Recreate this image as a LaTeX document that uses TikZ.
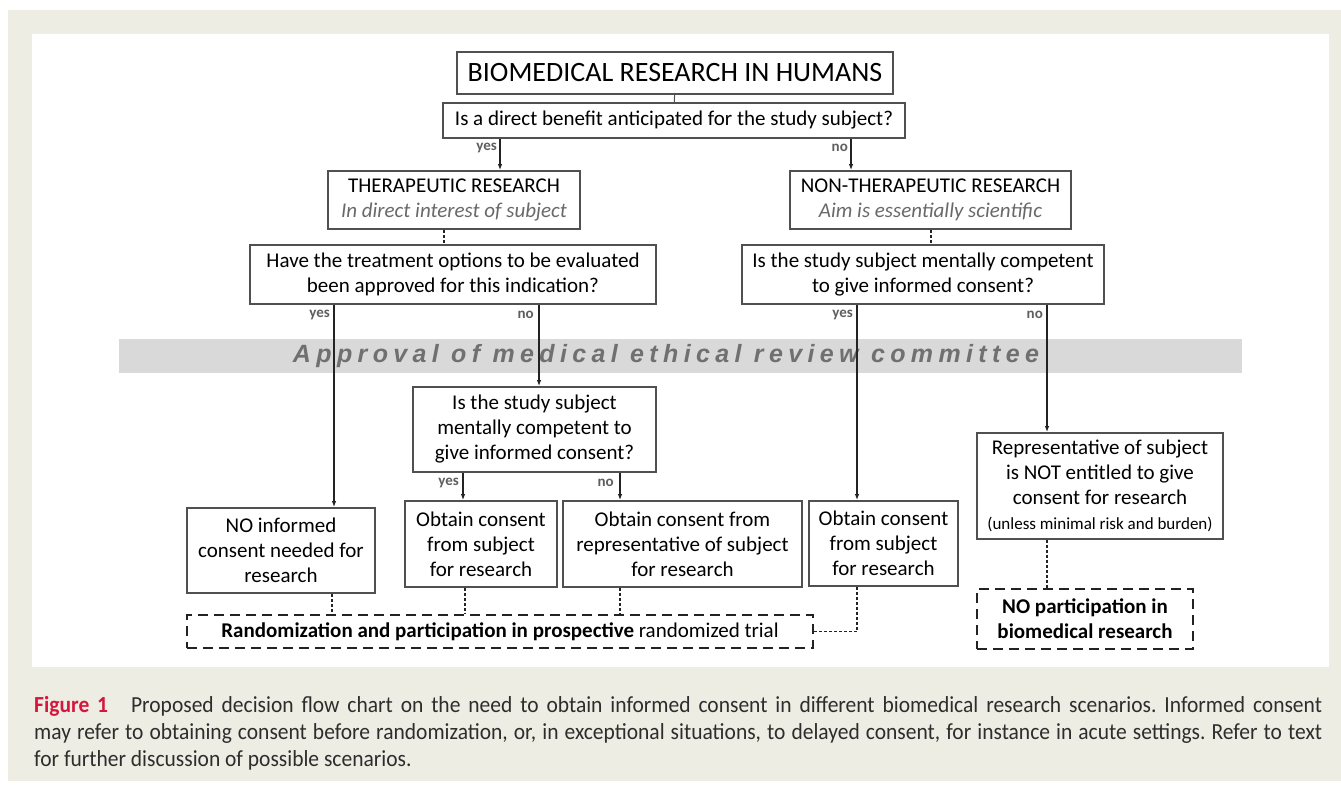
\documentclass[tikz,border=0pt]{standalone}
\usepackage{fontspec}
\setmainfont{Carlito}
\newfontfamily\bandfont[LetterSpace=21.5]{Liberation Sans}
\newfontfamily\capfont[FakeStretch=0.935]{Carlito}
\usetikzlibrary{arrows.meta}
\definecolor{beige}{RGB}{238,237,227}
\definecolor{boxgray}{RGB}{80,80,80}
\definecolor{linegray}{RGB}{35,35,35}
\definecolor{lblgray}{RGB}{95,95,95}
\definecolor{subgray}{RGB}{105,105,105}
\definecolor{bandgray}{RGB}{217,217,217}
\definecolor{bandtext}{RGB}{112,112,112}
\definecolor{figred}{RGB}{214,22,62}
\definecolor{captext}{RGB}{45,45,45}
\tikzset{
  box/.style={draw=boxgray, line width=1.8pt, fill=white, align=center, inner sep=2pt,
    font=\fontsize{21}{25}\selectfont},
  dbox/.style={draw=linegray, line width=2.4pt, dash pattern=on 10pt off 6pt, fill=white,
    align=center, inner sep=2pt, font=\bfseries\fontsize{21}{25}\selectfont},
  arr/.style={draw=linegray, line width=1.6pt, -{Latex[length=6pt,width=4.5pt]}},
  dots/.style={draw=linegray, line width=1.3pt, dash pattern=on 3pt off 2pt},
  lbl/.style={text=lblgray, anchor=east, inner sep=0pt, font=\bfseries\fontsize{15}{16}\selectfont}
}

\begin{document}
\begin{tikzpicture}[x=1pt, y=-1pt]
  \useasboundingbox (0,0) rectangle (1341,786);
  \fill[beige] (8,10) rectangle (1341,781);
  \fill[white] (32,34) rectangle (1329,667);
  \fill[bandgray] (119,339) rectangle (1242,373);
  \node[text=bandtext, font=\bandfont\bfseries\itshape\fontsize{25}{27}\selectfont] (band) at (666,356)
    {Approval of medical ethical review committee};

  \node[box, minimum width=436pt, minimum height=42pt, font=\fontsize{28}{30}\selectfont] (0) at (675,73)
    {BIOMEDICAL RESEARCH IN HUMANS};
  \node[box, minimum width=462pt, minimum height=35pt] (1) at (674,120.5)
    {Is a direct benefit anticipated for the study subject?};
  \node[box, minimum width=252pt, minimum height=58pt] (21) at (454,200)
    {THERAPEUTIC RESEARCH\\{\color{subgray}\itshape In direct interest of subject}};
  \node[box, minimum width=281pt, minimum height=58pt] (22) at (930.5,200)
    {NON-THERAPEUTIC RESEARCH\\{\color{subgray}\itshape Aim is essentially scientific}};
  \node[box, minimum width=406pt, minimum height=59pt] (31) at (453,274.5)
    {Have the treatment options to be evaluated\\been approved for this indication?};
  \node[box, minimum width=362pt, minimum height=59pt] (32) at (923,274.5)
    {Is the study subject mentally competent\\to give informed consent?};
  \node[box, minimum width=243pt, minimum height=85pt] (42) at (534.5,429.5)
    {Is the study subject\\mentally competent to\\give informed consent?};
  \node[box, minimum width=188pt, minimum height=85pt] (41) at (281,550.5)
    {NO informed\\consent needed for\\research};
  \node[box, minimum width=152pt, minimum height=86pt] (43) at (481,544)
    {Obtain consent\\from subject\\for research};
  \node[box, minimum width=239pt, minimum height=86pt] (44) at (682.5,544)
    {Obtain consent from\\representative of subject\\for research};
  \node[box, minimum width=149pt, minimum height=85pt] (45) at (883.5,543.5)
    {Obtain consent\\from subject\\for research};
  \node[box, minimum width=246pt, minimum height=106pt] (46) at (1100,486)
    {Representative of subject\\is NOT entitled to give\\consent for research\\
     {\fontsize{17}{20}\selectfont (unless minimal risk and burden)}};
  \node[dbox, minimum width=626pt, minimum height=33pt] (51) at (500,631.5)
    {Randomization and participation in prospective {\mdseries randomized trial}};
  \node[dbox, minimum width=216pt, minimum height=60pt] (52) at (1085,619)
    {NO participation in\\biomedical research};

  \coordinate (a) at (500,0);
  \coordinate (b) at (851,0);
  \coordinate (c) at (444,0);
  \coordinate (d) at (931,0);
  \coordinate (e) at (334,0);
  \coordinate (f) at (539,0);
  \coordinate (g) at (857,0);
  \coordinate (h) at (1047,0);
  \coordinate (i) at (463,0);
  \coordinate (j) at (620,0);
  \coordinate (k) at (332,0);
  \coordinate (l) at (465,0);

  \draw[draw=boxgray, line width=1pt] (0) -- (1);
  \draw[arr] (1.south -| a) -- (21.north -| a);
  \draw[arr] (1.south -| b) -- (22.north -| b);
  \draw[dots] (21.south -| c) -- (31.north -| c);
  \draw[dots] (22.south -| d) -- (32.north -| d);
  \draw[arr] (31.south -| e) -- (41.north -| e);
  \draw[arr] (31.south -| f) -- (42.north -| f);
  \draw[arr] (32.south -| g) -- (45.north -| g);
  \draw[arr] (32.south -| h) -- (46.north -| h);
  \draw[arr] (42.south -| i) -- (43.north -| i);
  \draw[arr] (42.south -| j) -- (44.north -| j);
  \draw[dots] (41.south -| k) -- (51.north -| k);
  \draw[dots] (43.south -| l) -- (51.north -| l);
  \draw[dots] (44.south -| j) -- (51.north -| j);
  \draw[dots] (45.south -| g) -- (g |- 51.east) -- (51.east);
  \draw[dots] (46.south -| h) -- (52.north -| h);

  \node[lbl] (y1) at (497,148) {yes};
  \node[lbl] (n1) at (848,148) {no};
  \node[lbl] (y2) at (330,315) {yes};
  \node[lbl] (n2) at (534,315) {no};
  \node[lbl] (y3) at (853,315) {yes};
  \node[lbl] (n3) at (1043,315) {no};
  \node[lbl] (y4) at (459,483) {yes};
  \node[lbl] (n4) at (614,483) {no};

  \node[anchor=north west, inner sep=0pt, text width=1288pt, align=justify, text=captext,
    font=\capfont\fontsize{23}{27}\selectfont\frenchspacing] (cap) at (34,696)
    {{\color{figred}\bfseries Figure 1}\quad Proposed decision flow chart on the need to obtain informed consent in different biomedical research scenarios. Informed consent\linebreak
     may refer to obtaining consent before randomization, or, in exceptional situations, to delayed consent, for instance in acute settings. Refer to text\linebreak
     for further discussion of possible scenarios.};
\end{tikzpicture}
\end{document}
